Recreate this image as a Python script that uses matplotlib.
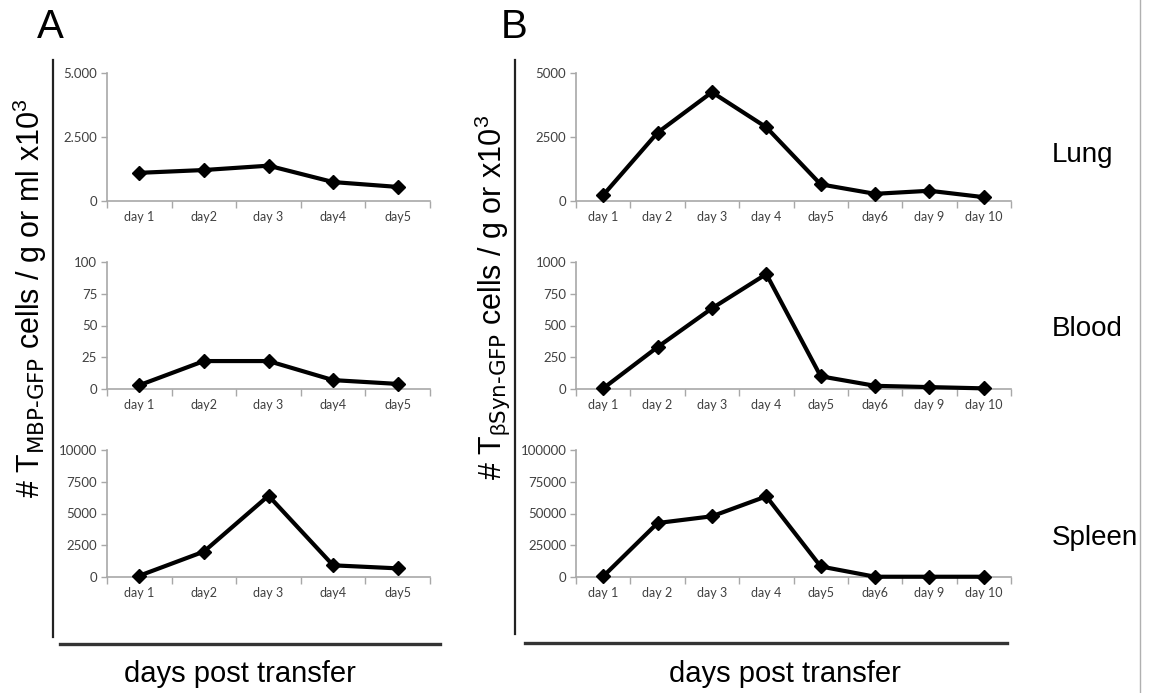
import matplotlib
matplotlib.use("Agg")
import matplotlib.pyplot as plt
import numpy as np
from matplotlib.ticker import FixedLocator, NullFormatter

# ---------------- data ----------------
days_a = ["day 1", "day2", "day 3", "day4", "day5"]
days_b = ["day 1", "day 2", "day 3", "day 4", "day5", "day6", "day 9", "day 10"]

a_lung = [1100, 1210, 1380, 740, 550]
a_blood = [3, 22, 22, 7, 4]
a_spleen = [100, 2000, 6400, 920, 680]

b_lung = [230, 2670, 4250, 2880, 650, 280, 400, 150]
b_blood = [5, 330, 635, 905, 100, 25, 15, 5]
b_spleen = [500, 42500, 47800, 63500, 8300, 200, 200, 200]

a_yticks = [[0, 2500, 5000], [0, 25, 50, 75, 100], [0, 2500, 5000, 7500, 10000]]
a_yticklabels = [["0", "2.500", "5.000"], ["0", "25", "50", "75", "100"],
                 ["0", "2500", "5000", "7500", "10000"]]
b_yticks = [[0, 2500, 5000], [0, 250, 500, 750, 1000], [0, 25000, 50000, 75000, 100000]]
b_yticklabels = [["0", "2500", "5000"], ["0", "250", "500", "750", "1000"],
                 ["0", "25000", "50000", "75000", "100000"]]
organs = ["Lung", "Blood", "Spleen"]

# ---------------- figure ----------------
W, H = 1150, 693
fig = plt.figure(figsize=(W / 100, H / 100), dpi=100)
plt.rcParams['mathtext.default'] = 'regular'

tick_font = "Lato"
big_font = ["Liberation Sans", "DejaVu Sans"]
spine_col = "#a8a8a8"
lab_col = "#404040"

rows_px = [(73, 201), (262, 389), (450, 577)]


def px_axes(x0, x1, y0, y1):
    return fig.add_axes([x0 / W, 1 - y1 / H, (x1 - x0) / W, (y1 - y0) / H])


def draw(ax, labels, vals, yt, ytl):
    n = len(labels)
    x = np.arange(n) + 0.5
    ax.plot(x, vals, color="black", lw=3.0, marker="D", ms=7, zorder=3,
            clip_on=False)
    ax.set_xlim(0, n)
    ax.set_ylim(yt[0], yt[-1])
    ax.xaxis.set_major_locator(FixedLocator(np.arange(n + 1)))
    ax.xaxis.set_major_formatter(NullFormatter())
    ax.xaxis.set_minor_locator(FixedLocator(x))
    ax.set_xticklabels(labels, minor=True, fontsize=9, family=tick_font,
                       color=lab_col)
    ax.tick_params(axis="x", which="major", length=5, width=1, color=spine_col,
                   direction="out")
    ax.tick_params(axis="x", which="minor", length=0, pad=7)
    ax.set_yticks(yt)
    ax.set_yticklabels(ytl, fontsize=9.5, family=tick_font, color=lab_col)
    ax.tick_params(axis="y", length=4, width=1, color=spine_col, pad=3)
    for s in ["top", "right"]:
        ax.spines[s].set_visible(False)
    for s in ["left", "bottom"]:
        ax.spines[s].set_color(spine_col)
        ax.spines[s].set_linewidth(1.2)
    ax.set_facecolor("none")


a_data = [a_lung, a_blood, a_spleen]
b_data = [b_lung, b_blood, b_spleen]
for i, (y0, y1) in enumerate(rows_px):
    axa = px_axes(107, 430, y0, y1)
    draw(axa, days_a, a_data[i], a_yticks[i], a_yticklabels[i])
    axb = px_axes(576, 1011, y0, y1)
    draw(axb, days_b, b_data[i], b_yticks[i], b_yticklabels[i])

# overlay axes in pixel coordinates for decorations
ov = fig.add_axes([0, 0, 1, 1], zorder=-1)
ov.set_xlim(0, W)
ov.set_ylim(H, 0)
ov.axis("off")

# panel letters
ov.text(50, 27, "A", fontsize=29, family=big_font, ha="center", va="center")
ov.text(514, 27, "B", fontsize=29, family=big_font, ha="center", va="center")

# vertical bracket lines
ov.plot([53, 53], [60, 637], color="#222222", lw=1.6)
ov.plot([515, 515], [60, 634], color="#222222", lw=1.6)
# horizontal bracket lines
ov.plot([60, 440], [644, 644], color="#333333", lw=2.4)
ov.plot([525, 1007], [643, 643], color="#333333", lw=2.4)
# right border line
ov.plot([1140, 1140], [0, H], color="#b0b0b0", lw=1)

# axis titles
ov.text(240, 674, "days post transfer", fontsize=21, family=big_font,
        ha="center", va="center")
ov.text(785, 674, "days post transfer", fontsize=21, family=big_font,
        ha="center", va="center")

ov.text(30, 298, r"# T$_{\text{MBP-GFP}}$ cells / g or ml x10$^{3}$",
        fontsize=22, family=big_font, rotation=90, ha="center", va="center")
ov.text(492, 298, r"# T$_{\beta\text{Syn-GFP}}$ cells / g or x10$^{3}$",
        fontsize=22, family=big_font, rotation=90, ha="center", va="center")

# organ labels
for name, yc in zip(organs, [155, 329, 538]):
    ov.text(1052, yc, name, fontsize=20, family=big_font, ha="left",
            va="center")

fig.savefig("out.png", dpi=100)
